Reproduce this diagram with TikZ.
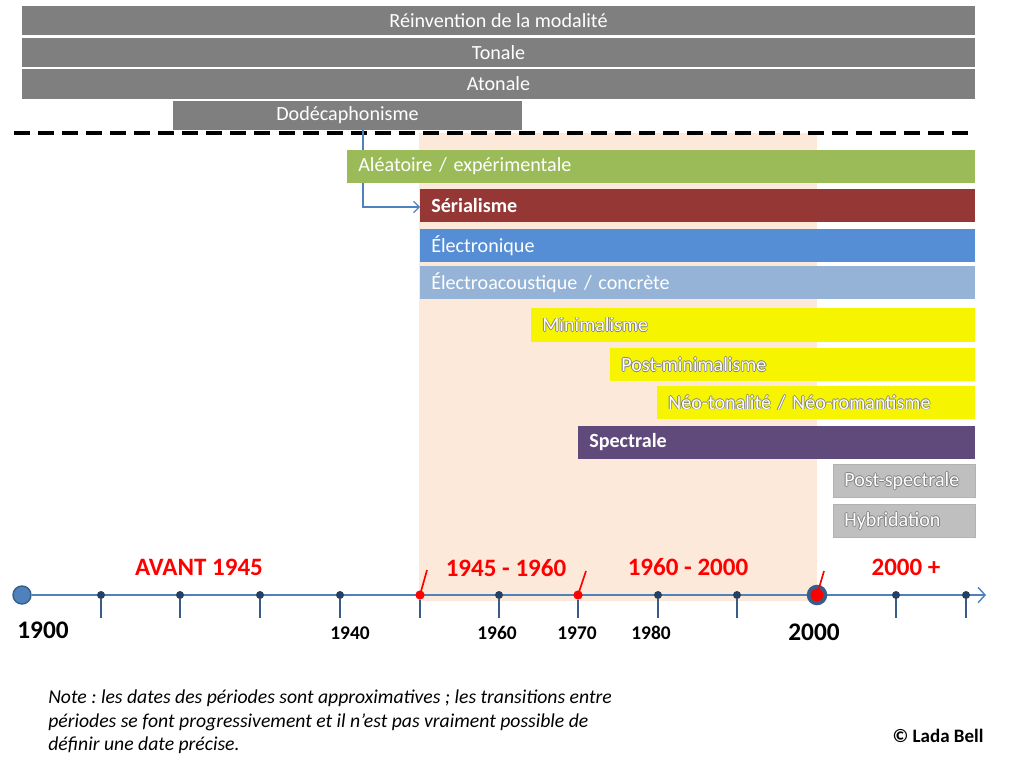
\documentclass[tikz,border=0pt]{standalone}
\usepackage{fontspec}
\setmainfont{Carlito}
\usepackage{tikz}
\usetikzlibrary{arrows.meta,positioning}
\frenchspacing

\definecolor{modgray}{HTML}{7F7F7F}
\definecolor{peach}{HTML}{FDE9D9}
\definecolor{aleagreen}{HTML}{9BBB59}
\definecolor{serialred}{HTML}{953735}
\definecolor{electblue}{HTML}{558ED5}
\definecolor{acoublue}{HTML}{95B3D7}
\definecolor{miniyellow}{HTML}{F7F400}
\definecolor{spectpurple}{HTML}{604A7B}
\definecolor{postgray}{HTML}{BFBFBF}
\definecolor{axisblue}{HTML}{4F81BD}
\definecolor{tickblue}{HTML}{254061}
\definecolor{ringblue}{HTML}{385D8A}

\newcommand\barfont{\fontsize{14.3}{16}\selectfont}
\newcommand\halotxt[1]{\leavevmode
  \rlap{\textcolor{black!50}{\kern0.6pt#1}}%
  \rlap{\textcolor{black!50}{\kern-0.6pt#1}}%
  \rlap{\textcolor{black!50}{\raisebox{0.6pt}{#1}}}%
  \rlap{\textcolor{black!50}{\raisebox{-0.6pt}{#1}}}%
  \textcolor{white}{#1}}

\begin{document}
\begin{tikzpicture}[x=0.025cm,y=-0.025cm,
    graybar/.style={fill=modgray,text=white,inner sep=0pt,minimum height=0.725cm,font=\barfont},
    bar/.style={anchor=west,inner xsep=0.275cm,inner ysep=0pt,minimum height=0.825cm,align=left,text=white,font=\barfont},
    link/.style={draw=axisblue,line width=0.8pt,-{Straight Barb[length=4pt,width=8pt]}},
    tickdot/.style={circle,fill=tickblue,inner sep=0pt,minimum size=0.2cm},
    reddot/.style={circle,fill=red,inner sep=0pt,minimum size=0.23cm},
    tickline/.style={draw=ringblue,line width=0.8pt},
    slant/.style={draw=red,line width=1.2pt},
    period/.style={text=red,font=\fontsize{17.8}{20}\selectfont\bfseries},
    year/.style={font=\fontsize{13.8}{16}\selectfont\bfseries},
    bigyear/.style={font=\fontsize{18}{21}\selectfont\bfseries}]
  \useasboundingbox (0,0) rectangle (1024,762);

  % period 1945-2000
  \fill[peach] (419,133) rectangle (817,601);

  % bars before 1945
  \node[graybar, minimum width=23.825cm] (reinv) at (498.5,20.5) {Réinvention de la modalité};
  \node[graybar, minimum width=23.825cm] (tonal) at (498.5,52.5) {Tonale};
  \node[graybar, minimum width=23.825cm] (atonal) at (498.5,84) {Atonale};
  \node[graybar, minimum width=8.725cm] (dodec) at (347.5,115.5) {Dodécaphonisme};
  \draw[line width=2.3pt, dash pattern=on 11.4pt off 5.7pt] (14,133) -- (975,133);

  \coordinate (dodecout) at (363,0 |- dodec.south);
  \draw[link] (dodecout) |- (420,207);

  % bars after 1945
  \node[bar, fill=aleagreen, text width=15.15cm] (alea) at (347,166.5) {Aléatoire / expérimentale};
  \node[bar, fill=serialred, text width=13.325cm, font=\barfont\bfseries] (serial) at (420,205.5) {Sérialisme};
  \node[bar, fill=electblue, text width=13.325cm] (electro) at (420,245.5) {Électronique};
  \node[bar, fill=acoublue, text width=13.325cm] (acous) at (420,282.5) {Électroacoustique / concrète};
  \node[bar, fill=miniyellow, text width=10.55cm] (mini) at (531,325) {\halotxt{Minimalisme}};
  \node[bar, fill=miniyellow, text width=8.575cm] (postmini) at (610,364.5) {\halotxt{Post-minimalisme}};
  \node[bar, fill=miniyellow, text width=7.4cm] (neo) at (657,402.5) {\halotxt{Néo-tonalité / Néo-romantisme}};
  \node[bar, fill=spectpurple, text width=9.375cm, font=\barfont\bfseries] (spect) at (578,442) {Spectrale};
  \node[bar, fill=postgray, draw=black!30, text width=3cm] (postspect) at (833,481) {\halotxt{Post-spectrale}};
  \node[bar, fill=postgray, draw=black!30, text width=3cm] (hybrid) at (833,521) {\halotxt{Hybridation}};

  % timeline
  \coordinate (axend) at (986,595);
  \node[circle, fill=axisblue, draw=ringblue, line width=1pt, inner sep=0pt, minimum size=0.45cm] (t1900) at (22,595) {};
  \draw[axisblue, line width=1pt, -{Straight Barb[length=5pt,width=11pt]}] (t1900) -- (axend);

  \node[tickdot] (t1910) at (101,595) {};
  \node[tickdot] (t1920) at (180,595) {};
  \node[tickdot] (t1930) at (260,595) {};
  \node[tickdot] (t1940) at (340,595) {};
  \node[reddot]  (t1945) at (420,595) {};
  \node[tickdot] (t1960) at (499,595) {};
  \node[reddot]  (t1970) at (578,595) {};
  \node[tickdot] (t1980) at (658,595) {};
  \node[tickdot] (t1990) at (737,595) {};
  \node[circle, fill=red, draw=ringblue, line width=2.6pt, inner sep=0pt, minimum size=0.42cm] (t2000) at (817,595) {};
  \node[tickdot] (t2010) at (896,595) {};
  \node[tickdot] (t2020) at (966,595) {};

  \coordinate (b1910) at (101,618);
  \coordinate (b1920) at (180,618);
  \coordinate (b1930) at (260,618);
  \coordinate (b1940) at (340,618);
  \coordinate (b1945) at (420,618);
  \coordinate (b1960) at (499,618);
  \coordinate (b1970) at (578,618);
  \coordinate (b1980) at (658,618);
  \coordinate (b1990) at (737,618);
  \coordinate (b2010) at (896,618);
  \coordinate (b2020) at (966,618);
  \path[tickline]
      (t1910) edge (b1910)
      (t1920) edge (b1920)
      (t1930) edge (b1930)
      (t1940) edge (b1940)
      (t1945) edge (b1945)
      (t1960) edge (b1960)
      (t1970) edge (b1970)
      (t1980) edge (b1980)
      (t1990) edge (b1990)
      (t2010) edge (b2010)
      (t2020) edge (b2020);

  \coordinate (s1945) at (427,570);
  \coordinate (s1970) at (586,571);
  \coordinate (s2000) at (824,571);
  \draw[slant] (t1945.center) -- (s1945);
  \draw[slant] (t1970.center) -- (s1970);
  \draw[slant] (t2000.center) -- (s2000);

  % period labels
  \node[period] (avant) at (199,567) {AVANT 1945};
  \node[period] (p1945) at (506,568) {1945 - 1960};
  \node[period] (p1960) at (688,567) {1960 - 2000};
  \node[period] (p2000) at (906,567) {2000 +};

  % years
  \node[bigyear] (y1900) at (43,630) {1900};
  \node[year] (y1940) at (350,633) {1940};
  \node[year] (y1960) at (497,633) {1960};
  \node[year] (y1970) at (577,633) {1970};
  \node[year] (y1980) at (651,633) {1980};
  \node[bigyear] (y2000) at (814,632) {2000};

  % note
  \node[anchor=north west, inner sep=0pt, align=left, font=\fontsize{14}{16.7}\selectfont\itshape] (note) at (48,690)
      {Note : les dates des périodes sont approximatives ; les transitions entre\\
       périodes se font progressivement et il n’est pas vraiment possible de\\
       définir une date précise.};
  \node[font=\fontsize{13.5}{15}\selectfont\bfseries] (copy) at (938,736) {© Lada Bell};
\end{tikzpicture}
\end{document}
